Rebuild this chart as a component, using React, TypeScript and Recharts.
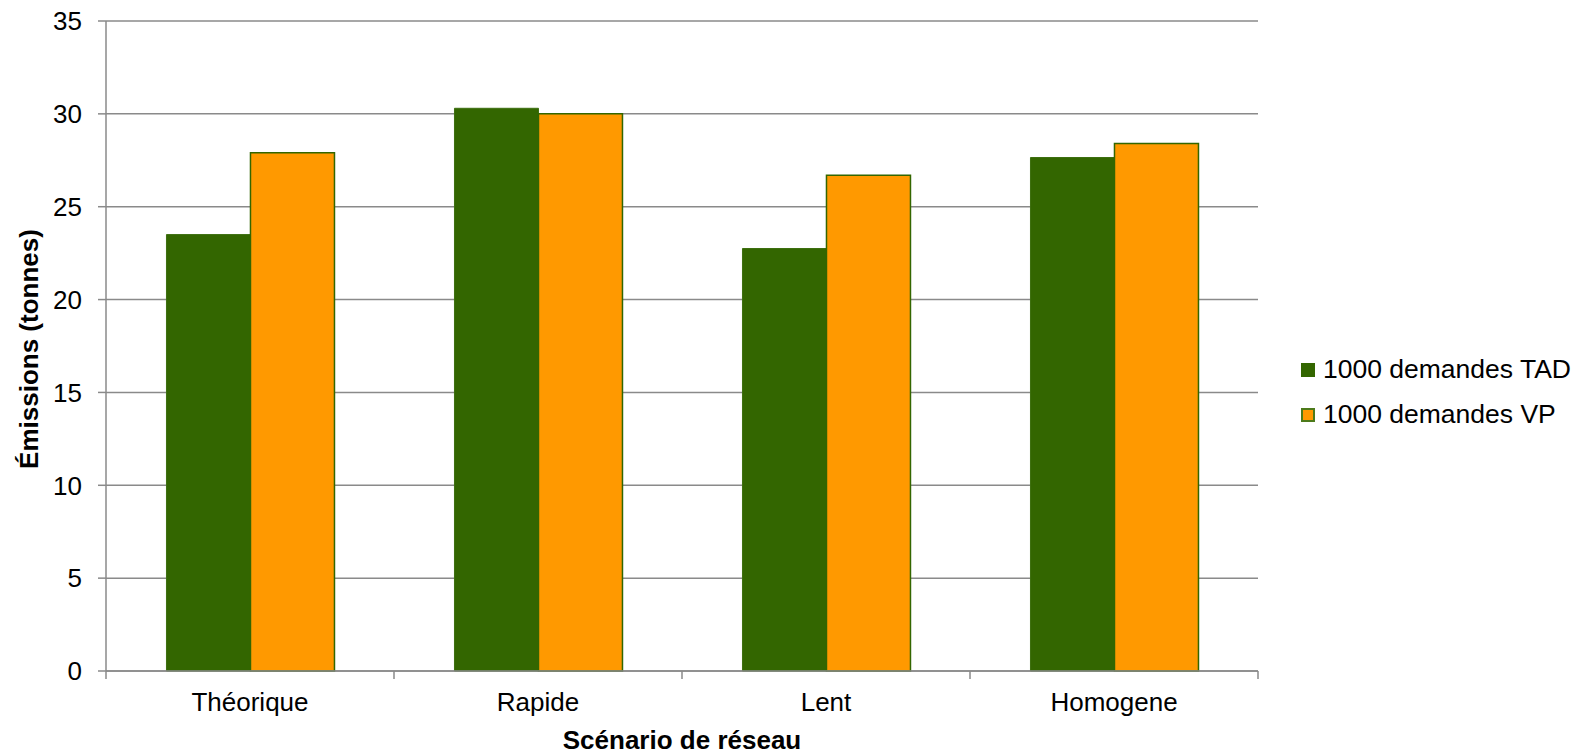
import React from 'react';
import { BarChart, Bar, XAxis, YAxis, CartesianGrid } from 'recharts';

const categories = ['Théorique', 'Rapide', 'Lent', 'Homogene'];
const tadValues = [23.5, 30.3, 22.75, 27.65];
const vpValues = [27.9, 30.0, 26.7, 28.4];
const yTicks = [0, 5, 10, 15, 20, 25, 30, 35];

const seriesNames = ['1000 demandes TAD', '1000 demandes VP'];
const seriesColors = ['#336600', '#FF9900'];

const data = categories.map((name, i) => ({ name, tad: tadValues[i], vp: vpValues[i] }));

const FONT = '"Liberation Sans", Arial, sans-serif';
const GRID = '#8a8a8a';
const W = 1581;
const H = 756;
const MARGIN = { top: 21, right: 323, bottom: 40, left: 36 };
const Y_AXIS_W = 70;
const PLOT_W = W - MARGIN.left - MARGIN.right - Y_AXIS_W;
const BAND = PLOT_W / categories.length;

const CategoryTick = (props: any) => {
  const { x, y, payload, index } = props;
  const axisY = y - 22;
  const left = x - BAND / 2;
  const right = x + BAND / 2;
  return (
    <g>
      <line x1={left} x2={left} y1={axisY} y2={axisY + 8} stroke={GRID} strokeWidth={1.5} />
      {index === categories.length - 1 && (
        <line x1={right} x2={right} y1={axisY} y2={axisY + 8} stroke={GRID} strokeWidth={1.5} />
      )}
      <text x={x} y={y} dy="0.71em" textAnchor="middle" fill="#000" fontSize={26} fontFamily={FONT}>
        {payload.value}
      </text>
    </g>
  );
};

export default function App() {
  return (
    <div style={{ position: 'absolute', left: 0, top: 0, width: W, height: H, background: '#fff' }}>
      <BarChart width={W} height={H} data={data} margin={MARGIN} barCategoryGap="21%" barGap={0}>
        <CartesianGrid vertical={false} stroke={GRID} strokeWidth={1.5} />
        <XAxis
          dataKey="name"
          stroke={GRID}
          strokeWidth={1.5}
          tickLine={false}
          tickSize={0}
          tickMargin={22}
          height={45}
          tick={<CategoryTick />}
          label={{
            content: ({ viewBox }: any) => (
              <text
                x={viewBox.x + viewBox.width / 2}
                y={749}
                textAnchor="middle"
                fontSize={26}
                fontWeight="bold"
                fontFamily={FONT}
                fill="#000"
              >
                Scénario de réseau
              </text>
            ),
          }}
        />
        <YAxis
          width={Y_AXIS_W}
          domain={[0, 35]}
          ticks={yTicks}
          interval={0}
          stroke={GRID}
          strokeWidth={1.5}
          tickSize={8}
          tickMargin={16}
          tick={{ fill: '#000', fontSize: 26, fontFamily: FONT }}
          label={{
            content: ({ viewBox }: any) => {
              const cy = viewBox.y + viewBox.height / 2 + 3;
              return (
                <text
                  x={38}
                  y={cy}
                  transform={`rotate(-90, 38, ${cy})`}
                  textAnchor="middle"
                  fontSize={26}
                  fontWeight="bold"
                  fontFamily={FONT}
                  fill="#000"
                >
                  Émissions (tonnes)
                </text>
              );
            },
          }}
        />
        <Bar dataKey="tad" name={seriesNames[0]} fill={seriesColors[0]} stroke="#3d6f10" strokeWidth={1} isAnimationActive={false} />
        <Bar dataKey="vp" name={seriesNames[1]} fill={seriesColors[1]} stroke="#336600" strokeWidth={1.5} isAnimationActive={false} />
      </BarChart>
      <div style={{ position: 'absolute', left: 1301, top: 347, fontFamily: FONT, fontSize: 26.5, color: '#000' }}>
        {seriesNames.map((name, i) => (
          <div key={name} style={{ display: 'flex', alignItems: 'center', height: 45, whiteSpace: 'nowrap' }}>
            <span
              style={{
                display: 'inline-block',
                width: 14,
                height: 14,
                boxSizing: 'border-box',
                background: seriesColors[i],
                border: i === 1 ? '2px solid #4d7a1a' : 'none',
                marginRight: 8,
              }}
            />
            {name}
          </div>
        ))}
      </div>
    </div>
  );
}
